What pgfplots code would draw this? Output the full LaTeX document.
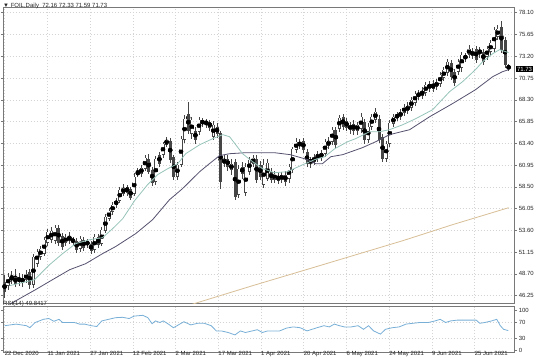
\documentclass[border=0pt]{standalone}
\usepackage{fontspec}
\setmainfont{Liberation Sans}
\usepackage{pgfplots}
\pgfplotsset{compat=1.18}
\usepackage{pgfplotstable}

\definecolor{fastma}{RGB}{150,195,185}
\definecolor{slowma}{RGB}{85,80,110}
\definecolor{longma}{RGB}{215,190,150}
\definecolor{rsiblue}{RGB}{120,175,215}
\definecolor{gridc}{RGB}{212,212,212}
\definecolor{framec}{RGB}{120,120,120}
\definecolor{candlec}{RGB}{70,70,70}

\pgfplotstableread{
i o h l c
0 47.83 48.61 46.03 46.70
1 47.38 48.84 46.93 48.39
2 48.05 49.06 47.60 48.39
3 48.39 49.29 47.26 47.60
4 47.83 48.84 47.38 48.27
5 48.27 48.73 47.26 47.71
6 48.05 49.18 47.71 48.73
7 48.95 49.29 47.04 47.49
8 47.49 50.98 47.15 50.64
9 49.85 51.54 49.52 51.20
10 50.64 51.88 50.30 51.54
11 50.98 52.89 50.75 52.55
12 52.22 53.79 51.88 53.45
13 52.55 54.02 52.22 53.57
14 52.44 54.24 52.10 53.90
15 53.90 54.24 51.88 52.22
16 53.00 53.34 51.43 51.77
17 52.22 53.23 51.88 52.89
18 52.44 53.45 52.10 53.00
19 52.33 52.89 51.99 52.55
20 52.44 52.78 51.09 51.43
21 51.54 53.00 51.20 52.67
22 52.55 52.89 51.32 51.65
23 51.99 52.67 51.65 52.33
24 52.10 52.44 50.98 51.32
25 51.43 53.23 51.09 52.89
26 52.89 53.23 51.65 51.99
27 52.10 54.02 51.88 53.68
28 53.57 55.48 53.34 55.14
29 54.91 56.15 54.69 55.82
30 55.70 56.83 55.36 56.49
31 56.49 57.28 56.15 56.94
32 56.94 58.52 56.72 58.18
33 57.73 58.85 57.51 58.41
34 58.52 58.74 57.51 57.84
35 58.29 58.52 57.05 57.28
36 57.73 60.09 57.51 59.64
37 59.87 60.66 59.64 60.21
38 59.98 60.99 59.64 60.66
39 60.54 62.12 60.32 61.78
40 61.67 62.23 59.98 60.21
41 60.43 60.77 58.63 58.97
42 59.08 62.01 58.74 61.67
43 62.12 62.46 60.77 61.11
44 62.12 63.58 61.78 63.36
45 63.24 64.14 63.02 63.81
46 63.69 64.03 61.22 61.56
47 61.89 62.12 59.30 59.64
48 59.64 61.33 59.30 60.99
49 60.99 64.26 60.77 63.92
50 63.81 66.62 63.47 66.17
51 66.73 68.08 64.48 64.82
52 64.48 66.40 63.92 66.06
53 64.82 65.27 63.36 63.81
54 64.71 66.40 64.37 66.06
55 65.61 66.28 65.27 65.94
56 65.94 66.17 65.16 65.49
57 65.83 66.06 64.82 65.16
58 64.14 65.94 63.81 65.49
59 65.27 65.72 64.03 64.48
60 64.59 64.82 58.29 59.08
61 61.11 62.12 60.77 61.67
62 61.67 62.12 60.32 60.77
63 60.43 61.67 59.87 61.11
64 61.33 61.67 57.05 57.39
65 57.62 60.99 57.28 60.54
66 60.77 61.33 59.42 59.98
67 57.84 61.22 57.51 60.77
68 60.21 61.89 59.87 61.56
69 61.11 62.12 60.77 61.78
70 61.67 62.12 58.97 59.30
71 60.99 61.44 59.30 59.64
72 58.74 61.67 58.41 60.99
73 59.42 61.67 59.19 61.22
74 60.21 60.66 58.97 59.30
75 59.30 60.32 58.97 59.98
76 59.76 60.21 58.85 59.19
77 59.30 60.21 58.97 59.87
78 59.87 60.32 58.63 59.08
79 59.42 61.11 58.97 60.77
80 60.43 63.02 60.09 62.79
81 62.68 64.03 62.34 63.58
82 63.13 63.92 62.79 63.47
83 63.69 64.03 62.34 62.68
84 62.46 62.79 60.77 61.11
85 61.67 61.89 60.66 61.11
86 61.33 62.23 60.99 61.89
87 61.67 62.57 61.33 62.23
88 61.78 62.68 61.44 62.34
89 62.23 63.92 61.89 63.58
90 63.13 64.14 62.79 63.69
91 63.58 65.27 63.24 64.93
92 64.93 65.27 62.91 63.24
93 65.04 66.62 64.71 66.28
94 66.40 66.73 64.93 65.27
95 65.94 66.28 64.82 65.16
96 64.93 65.83 64.48 65.49
97 65.61 66.06 64.37 64.82
98 64.82 65.83 64.37 65.49
99 65.04 66.85 64.59 66.40
100 65.83 66.17 63.36 63.81
101 63.81 65.72 63.47 65.27
102 65.27 66.73 64.93 66.40
103 66.06 67.41 65.72 66.96
104 66.17 66.62 63.47 63.81
105 64.14 64.48 61.33 61.67
106 61.67 63.69 61.33 63.36
107 63.36 66.06 63.02 65.72
108 65.61 66.73 65.27 66.40
109 66.28 66.96 65.94 66.62
110 66.40 67.30 66.06 66.96
111 66.85 67.86 66.51 67.52
112 67.07 68.08 66.73 67.63
113 67.41 68.65 67.07 68.31
114 67.97 69.32 67.63 68.98
115 68.65 69.43 68.31 69.10
116 69.32 69.77 68.42 68.76
117 69.10 70.33 68.76 69.99
118 69.55 70.45 69.21 70.11
119 70.11 70.56 69.21 69.55
120 69.77 70.67 69.43 70.33
121 70.11 71.46 69.77 71.12
122 70.78 72.02 70.45 71.69
123 71.35 72.92 71.01 72.59
124 72.47 72.81 70.56 70.90
125 71.46 71.80 69.88 70.22
126 71.46 72.92 71.12 72.59
127 71.91 73.71 71.46 73.37
128 72.92 73.60 72.59 73.26
129 73.37 74.50 73.04 74.05
130 73.26 74.16 72.92 73.82
131 74.05 74.39 72.47 72.81
132 73.49 74.27 73.04 73.94
133 73.71 74.05 72.25 72.59
134 73.15 74.39 72.81 74.05
135 73.71 75.06 73.37 74.72
136 74.05 76.52 73.71 76.19
137 75.40 76.75 75.06 76.30
138 76.52 77.20 73.60 73.94
139 75.06 75.40 71.91 72.25
140 72.16 72.33 71.59 71.73
}\candles

\begin{document}
\begin{tikzpicture}[x=1bp,y=1bp]
\useasboundingbox (0,0) rectangle (536,357);
\pgfplotsset{
  mtstyle/.style={
    scale only axis, width=511bp,
    xmin=-0.278, xmax=141.67,
    xtick={0,11.87,23.74,35.61,47.48,59.35,71.22,83.09,94.96,106.83,118.7,130.57},
    xmajorgrids, ymajorgrids,
    major grid style={draw=gridc, line width=0.5bp, dash pattern=on 1bp off 2bp},
    axis line style={draw=framec, line width=0.7bp},
    tick align=outside, major tick length=2.5bp,
    tick style={draw=framec, line width=0.5bp},
    xtick style={draw=none},
    yticklabel pos=right,
    ticklabel style={font=\fontsize{6}{7}\selectfont, text=black!85},
    yticklabel style={anchor=west, inner sep=0pt, xshift=1.5bp},
    clip mode=individual,
    /pgf/number format/assume math mode=true,
  },
  candlebar/.style 2 args={only marks, mark=none,
    error bars/.cd, y dir=both, y explicit, error mark=none,
    error bar style={draw=#1, line width=#2}},
}
% ---------------- price panel ----------------
\begin{axis}[mtstyle, at={(1,60)}, anchor=south west, height=296bp,
  ymin=45.351, ymax=78.662,
  ytick={46.25,48.70,51.15,53.60,56.05,58.50,60.95,63.40,65.85,68.30,70.75,73.20,75.65,78.10},
  yticklabels={46.25,48.70,51.15,53.60,56.05,58.50,60.95,63.40,65.85,68.30,70.75,73.20,75.65,78.10},
  xticklabels={},
]
\addplot[longma, line width=0.8bp] coordinates {
(52.2,45.30) (68.9,47.38) (82.8,49.06) (96.7,50.75) (110.6,52.44) (124.4,54.24) (140,56.15)};
% wicks
\addplot[candlebar={candlec}{0.8bp}]
  table[x=i, y expr={(\thisrow{h}+\thisrow{l})/2}, y error expr={(\thisrow{h}-\thisrow{l})/2}] {\candles};
% bodies: outline / bear body
\addplot[candlebar={candlec}{3.0bp}]
  table[x=i, y expr={(\thisrow{o}+\thisrow{c})/2}, y error expr={max(abs(\thisrow{c}-\thisrow{o})/2,0.056)}] {\candles};
% bodies: hollow part of bull candles
\addplot[candlebar={white}{1.8bp}]
  table[x=i, y expr={(\thisrow{o}+\thisrow{c})/2}, y error expr={(\thisrow{c}>\thisrow{o})*max(abs(\thisrow{c}-\thisrow{o})/2-0.07,0)}] {\candles};
% moving averages
\addplot[slowma, line width=0.8bp] coordinates {
(1.67,45.35) (8.6,46.93) (13.3,48.05) (18.1,49.18) (22.5,49.85) (27.2,50.98) (30.8,51.77) (36.4,53.23) (41.1,54.80) (45.8,57.05) (49.4,58.29) (54.2,60.21) (56.9,61.11) (59.7,62.01) (62.5,62.23) (66.9,62.34) (70.8,62.34) (75.0,62.34) (79.4,62.12) (84.2,61.56) (86.4,61.11) (88.3,61.11) (90.6,61.89) (93.9,62.12) (99.4,62.91) (103.1,63.58) (106.9,64.37) (112.5,64.93) (118.1,66.40) (124.4,67.86) (130.8,69.43) (135.6,70.90) (138.3,71.46) (140.0,71.69)};
\addplot[fastma, line width=0.8bp] coordinates {
(1.39,47.38) (8.33,48.05) (12.5,49.74) (16.1,50.98) (19.7,52.10) (23.6,52.55) (27.2,52.78) (30.0,53.79) (32.8,54.91) (36.1,56.94) (39.7,58.74) (42.5,59.87) (45.3,60.54) (48.1,61.11) (50.3,62.23) (54.2,63.24) (57.8,63.92) (60.6,64.37) (62.5,64.14) (64.2,63.24) (66.1,62.23) (68.9,61.33) (71.7,60.54) (75.0,60.09) (78.6,60.21) (82.8,60.99) (86.1,61.56) (88.9,61.89) (91.7,62.79) (95.3,63.58) (97.5,63.92) (101.4,64.71) (104.2,64.71) (106.9,64.93) (110.6,65.49) (114.2,66.17) (118.9,67.18) (123.6,69.21) (127.2,70.33) (130.8,71.69) (132.8,72.59) (135.6,73.49) (137.5,73.94) (140,73.60)};
\node[fill=black, text=white, anchor=west, inner sep=0.8bp, font=\fontsize{6}{7}\selectfont, xshift=1.5bp] at (axis cs:141.67,71.73) {71.73};
\end{axis}
% ---------------- RSI panel ----------------
\begin{axis}[mtstyle, at={(1,12.5)}, anchor=south west, height=45.5bp,
  ymin=-3.75, ymax=110,
  ytick={30,70}, yticklabels={30,70},
  extra y ticks={0,100}, extra y tick labels={0,100},
  extra y tick style={grid=none},
  xticklabels={22 Dec 2020,11 Jan 2021,27 Jan 2021,12 Feb 2021,2 Mar 2021,17 Mar 2021,1 Apr 2021,20 Apr 2021,6 May 2021,24 May 2021,9 Jun 2021,25 Jun 2021},
  xticklabel style={anchor=north west, inner sep=0pt, yshift=3.5bp},
]
\addplot[rsiblue, line width=0.8bp] coordinates {
(0,62) (3.2,66) (6.1,62) (7.0,57) (8.5,70) (10.8,78) (12.3,80) (13.7,73) (15.1,78) (16.1,70) (17.5,70) (19.4,70) (20.8,66) (22.2,66) (24.1,62) (25.6,60) (27.0,74) (28.9,78) (30.8,82) (32.7,83) (34.6,80) (36.0,86) (38.4,88) (39.8,82) (40.96,67) (41.9,74) (43.1,70) (44.1,74) (45.5,66) (46.9,57) (47.9,62) (49.8,72) (51.7,64) (53.6,68) (55.5,68) (57.4,62) (58.8,49) (60.2,49) (62.1,45) (64.0,39) (65.5,49) (66.9,45) (68.8,49) (70.2,52) (71.6,45) (73.07,49) (74.5,49) (76.4,49) (78.3,56) (80.2,59) (82.1,57) (84.0,49) (85.4,53) (86.8,57) (88.7,62) (90.2,59) (91.6,66) (93.0,62) (94.4,59) (96.3,59) (98.2,62) (99.7,53) (101.1,62) (102.5,49) (104.4,41) (105.8,53) (107.7,57) (109.6,59) (111.5,66) (113.4,68) (115.3,70) (117.7,70) (119.6,74) (121.0,78) (122.5,70) (123.9,74) (125.8,76) (127.7,76) (129.6,76) (131.0,76) (132.0,68) (133.4,70) (135.3,74) (136.7,78) (137.7,62) (138.6,53) (139.9,49.84)};
\end{axis}
\node[anchor=west, inner sep=0pt, font=\fontsize{6}{7}\selectfont, text=black!85] at (3,351) {▼ FOIL,Daily\ \ 72.16 72.33 71.59 71.73};
\node[anchor=west, inner sep=0pt, font=\fontsize{6}{7}\selectfont, text=black!85] at (3,53.5) {RSI(14) 49.8417};
\end{tikzpicture}
\end{document}
